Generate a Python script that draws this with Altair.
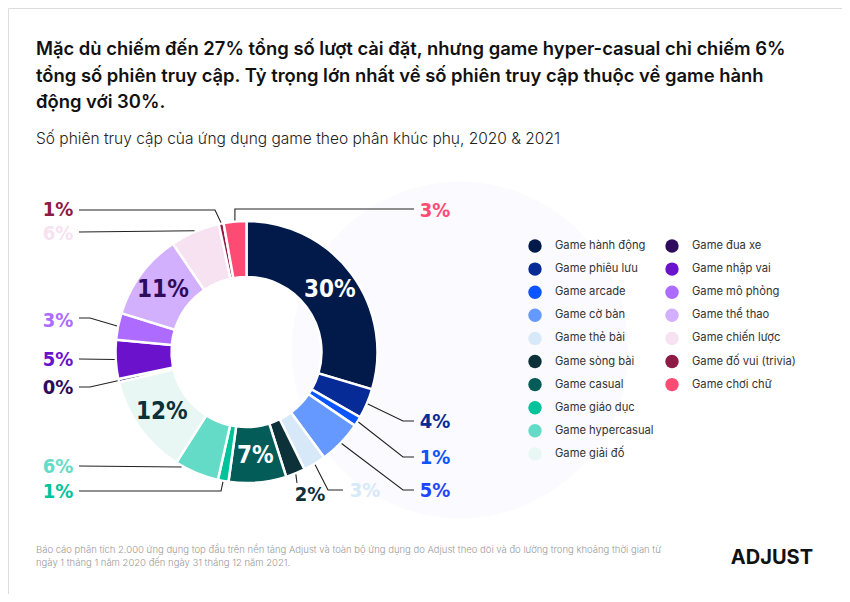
import math
import altair as alt
import pandas as pd

# ---------------- data ----------------
categories = [
    "Game hành động", "Game phiêu lưu", "Game arcade", "Game cờ bàn", "Game thẻ bài",
    "Game sòng bài", "Game casual", "Game giáo dục", "Game hypercasual", "Game giải đố",
    "Game đua xe", "Game nhập vai", "Game mô phỏng", "Game thể thao", "Game chiến lược",
    "Game đố vui (trivia)", "Game chơi chữ",
]
shares = [29.6, 3.7, 1.2, 5.4, 2.8, 2.4, 7.1, 1.3, 5.5, 12.3, 0.4, 4.8, 3.3, 10.7, 6.1, 0.6, 2.8]
pct_labels = ["30%", "4%", "1%", "5%", "3%", "2%", "7%", "1%", "6%", "12%", "0%", "5%", "3%", "11%", "6%", "1%", "3%"]

title_lines = [
    "Mặc dù chiếm đến 27% tổng số lượt cài đặt, nhưng game hyper-casual chỉ chiếm 6%",
    "tổng số phiên truy cập. Tỷ trọng lớn nhất về số phiên truy cập thuộc về game hành",
    "động với 30%.",
]
subtitle = "Số phiên truy cập của ứng dụng game theo phân khúc phụ, 2020 & 2021"
footer_lines = [
    "Báo cáo phân tích 2.000 ứng dụng top đầu trên nền tảng Adjust và toàn bộ ứng dụng do Adjust theo dõi và đo lường trong khoảng thời gian từ",
    "ngày 1 tháng 1 năm 2020 đến ngày 31 tháng 12 năm 2021.",
]
brand = "ADJUST"

# ---------------- styles / layout ----------------
colors = ["#021a4a", "#062a96", "#0a55ff", "#6699ff", "#d7e9f8", "#0c3139", "#035c58",
          "#00c39c", "#64dbc6", "#e8f7f3", "#2e0b5c", "#6b12cc", "#ad6bff", "#d3b0fd",
          "#f6e2f1", "#8e1a46", "#fe4b74"]
label_colors = list(colors)
label_colors[3] = "#1f46ff"
inside_colors = {0: "#ffffff", 6: "#ffffff", 9: "#0c3139", 13: "#2e0b5c"}

OFF = 8                      # page margin
CX, CY = 246.5 - OFF, 352 - OFF
R_IN, R_OUT = 75, 131
TEXT_R = 104
RX, LX = 435 - OFF, 58 - OFF  # label columns (centers)

# outside labels: index -> (label x, label y, elbow points after anchor, anchor fraction in slice)
outside = {
    16: (RX, 211, [(237, 209), (414, 209)], 0.5),
    1: (RX, 422, [(403, 421), (414, 421)], 0.5),
    2: (RX, 458, [(403, 457), (414, 457)], 0.5),
    3: (RX, 491, [(403, 490), (414, 490)], 0.5),
    4: (365 - OFF, 491, [(328, 490), (343, 490)], 0.5),
    5: (310 - OFF, 495, [(297, 483)], 0.5),
    7: (LX, 492, [(221, 491), (79, 491)], 0.5),
    8: (LX, 467, [(79, 466)], 0.85),
    10: (LX, 388, [(90, 387), (79, 387)], 0.5),
    11: (LX, 360, [(79, 359)], 0.5),
    12: (LX, 321, [(90, 318), (79, 318)], 0.5),
    14: (LX, 234, [(79, 232)], 0.5),
    15: (LX, 210, [(215, 210), (79, 210)], 0.5),
}

PCT_FONT = "DejaVu Sans Condensed, Roboto, sans-serif"
UI_FONT = "Inter"

# ---------------- tables ----------------
total = sum(shares)
df = pd.DataFrame({
    "idx": list(range(len(categories))),
    "cat": categories,
    "share": shares,
    "inner_label": [pct_labels[i] if i in inside_colors else "" for i in range(len(categories))],
    "inner_color": [inside_colors.get(i, "#000000") for i in range(len(categories))],
})

cum = [0.0]
for s in shares:
    cum.append(cum[-1] + s)

lab_rows, line_rows = [], []
for i, (lx, ly, elbows, frac) in outside.items():
    a = 2 * math.pi * (cum[i] + frac * shares[i]) / total
    ax = CX + (R_OUT + 1) * math.sin(a)
    ay = CY - (R_OUT + 1) * math.cos(a)
    pts = [(ax, ay)] + [(x - OFF, y - OFF) for x, y in elbows]
    if i == 16:
        pts[1] = (ax, pts[1][1])
    for k, (x, y) in enumerate(pts):
        line_rows.append({"lid": i, "step": k, "x": x, "y": y})
    lab_rows.append({"x": lx, "y": ly - OFF, "t": pct_labels[i], "c": label_colors[i]})
lab_df = pd.DataFrame(lab_rows)
line_df = pd.DataFrame(line_rows)

leg_cols = [535 - OFF, 672 - OFF]
leg_y0, leg_dy = 246 - OFF, 23.1
leg_df = pd.DataFrame({
    "cat": categories,
    "c": colors,
    "x": [leg_cols[i // 10] for i in range(len(categories))],
    "y": [leg_y0 + (i % 10) * leg_dy for i in range(len(categories))],
})

title_df = pd.DataFrame({"t": title_lines, "x": [36 - OFF] * 3, "y": [55 - OFF, 82 - OFF, 108 - OFF]})
sub_df = pd.DataFrame({"t": [subtitle], "x": [36 - OFF], "y": [144 - OFF]})
foot_df = pd.DataFrame({"t": footer_lines, "x": [36 - OFF] * 2, "y": [553 - OFF, 566 - OFF]})
brand_df = pd.DataFrame({"t": [brand], "x": [813 - OFF], "y": [564 - OFF]})

PX = dict(scale=None, axis=None)

def xy(chart):
    return chart.encode(x=alt.X("x:Q", **PX), y=alt.Y("y:Q", **PX))

# ---------------- layers ----------------
bg = alt.Chart(pd.DataFrame({"k": [0]})).mark_circle(size=math.pi * 190 ** 2, color="#fbfafe", opacity=1).encode(
    x=alt.value(460 - OFF), y=alt.value(350 - OFF))

donut = alt.Chart(df).mark_arc(innerRadius=R_IN, outerRadius=R_OUT, stroke="white", strokeWidth=2.5).encode(
    theta=alt.Theta("share:Q", stack=True),
    order=alt.Order("idx:Q"),
    color=alt.Color("cat:N", scale=alt.Scale(domain=categories, range=colors), legend=None),
    x=alt.value(CX), y=alt.value(CY),
)

inner_txt = alt.Chart(df).mark_text(radius=TEXT_R, font=PCT_FONT, fontSize=24, fontWeight=600, baseline="middle").encode(
    theta=alt.Theta("share:Q", stack=True),
    order=alt.Order("idx:Q"),
    text="inner_label:N",
    fill=alt.Fill("inner_color:N", scale=None),
    x=alt.value(CX), y=alt.value(CY),
)

lines = alt.Chart(line_df).mark_line(color="#222222", strokeWidth=1.1).encode(
    x=alt.X("x:Q", **PX), y=alt.Y("y:Q", **PX), detail="lid:N", order="step:Q")

out_txt = xy(alt.Chart(lab_df).mark_text(font=PCT_FONT, fontSize=20, fontWeight=600, baseline="middle", align="center")).encode(
    text="t:N", fill=alt.Fill("c:N", scale=None))

leg_dots = xy(alt.Chart(leg_df).mark_circle(size=180, opacity=1)).encode(fill=alt.Fill("c:N", scale=None))
leg_txt = alt.Chart(leg_df).mark_text(font=UI_FONT, fontSize=11.2, align="left", baseline="middle", dx=20, color="#333333").encode(
    x=alt.X("x:Q", **PX), y=alt.Y("y:Q", **PX), text="cat:N")

title = xy(alt.Chart(title_df).mark_text(font=UI_FONT, fontSize=18.4, fontWeight=600, align="left", baseline="alphabetic", color="#111111")).encode(text="t:N")
sub = xy(alt.Chart(sub_df).mark_text(font=UI_FONT, fontSize=15.5, fontWeight=300, align="left", baseline="alphabetic", color="#222222")).encode(text="t:N")
foot = xy(alt.Chart(foot_df).mark_text(font=UI_FONT, fontSize=9.5, fontWeight=300, align="left", baseline="alphabetic", color="#9a9a9a")).encode(text="t:N")
brand_t = xy(alt.Chart(brand_df).mark_text(font=UI_FONT, fontSize=20, fontWeight=700, align="right", baseline="alphabetic", color="#111111")).encode(text="t:N")

chart = alt.layer(bg, donut, inner_txt, lines, out_txt, leg_dots, leg_txt, title, sub, foot, brand_t).properties(
    width=834, height=586, autosize=alt.AutoSizeParams(type="none"), padding=0,
).configure_view(stroke=None).configure(background="white")

chart.save("out.html", embed_options={"renderer": "svg", "actions": False})
